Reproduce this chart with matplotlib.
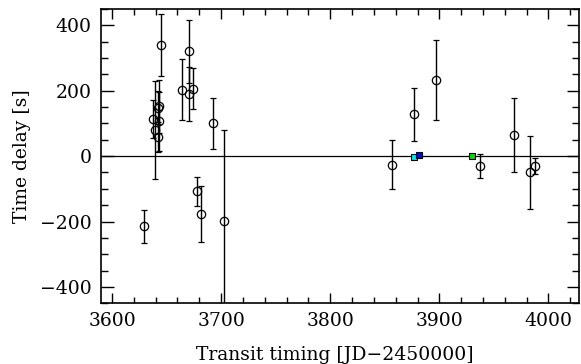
import matplotlib
matplotlib.use("Agg")
from matplotlib import pyplot as plt
from matplotlib.ticker import MultipleLocator

# transit times [JD-2450000], delays [s] and errors [s] of the open-circle points
times = [3629, 3637.5, 3639.3, 3642.4, 3643, 3642, 3643.3, 3644.5, 3664, 3671, 3671, 3674,
         3678, 3682, 3693, 3702.5, 3857, 3877, 3897, 3937, 3968, 3983, 3988]
delays = [-215, 114, 81, 58, 152, 148, 107, 340, 203, 321, 191, 206,
          -107, -176, 101, -199, -26, 128, 233, -30, 64, -49, -30]
errors = [50, 57, 150, 45, 80, 50, 90, 96, 93, 97, 82, 63,
          44, 86, 78, 278, 75, 81, 121, 37, 113, 112, 25]

# coloured square points
sq_times = [3877, 3881.5, 3930]
sq_delays = [-3, 3, -1]
sq_colors = ["#00e8f0", "#0010d0", "#00e000"]

plt.rcParams["font.family"] = ["DejaVu Serif"]
plt.rcParams["font.size"] = 13.5

fig = plt.figure(figsize=(5.81, 3.64), dpi=100)
ax = fig.add_axes([0.174, 0.167, 0.8226, 0.808])

ax.axhline(0, color="black", lw=0.9, zorder=1)
ax.errorbar(times, delays, yerr=errors, fmt="o", mfc="none", mec="black", mew=0.9,
            ms=6, ecolor="black", elinewidth=1.0, capsize=2.5, capthick=1.0, zorder=2)
for t, d, c in zip(sq_times, sq_delays, sq_colors):
    ax.plot(t, d, "s", color=c, mec="black", mew=0.8, ms=5, zorder=3)

ax.set_xlim(3590, 4028)
ax.set_ylim(-450, 450)
ax.xaxis.set_major_locator(MultipleLocator(100))
ax.xaxis.set_minor_locator(MultipleLocator(20))
ax.yaxis.set_major_locator(MultipleLocator(200))
ax.yaxis.set_minor_locator(MultipleLocator(50))
ax.tick_params(axis="both", which="both", direction="in", top=True, right=True, width=1)
ax.tick_params(axis="x", which="major", length=7, pad=6)
ax.tick_params(axis="x", which="minor", length=4)
ax.tick_params(axis="y", which="major", length=9, pad=7)
ax.tick_params(axis="y", which="minor", length=5)
for s in ax.spines.values():
    s.set_linewidth(1.2)

ax.set_xlabel("Transit timing [JD\u22122450000]")
ax.set_ylabel("Time delay [s]")
ax.xaxis.set_label_coords(0.49, -0.145)
ax.yaxis.set_label_coords(-0.146, 0.5)

fig.savefig("out.png", dpi=100)
